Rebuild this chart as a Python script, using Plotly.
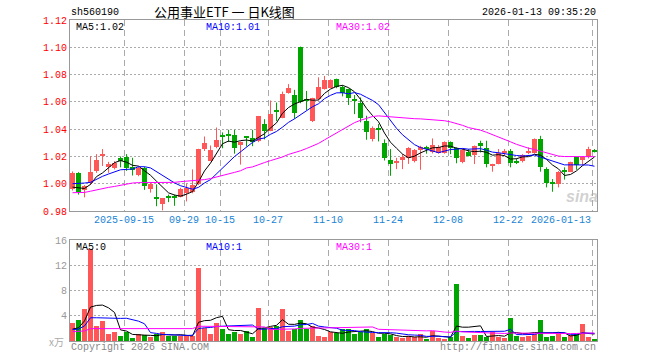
import plotly.graph_objects as go
import pandas as pd

# ---------------- data ----------------
tick_labels = ["2025-09-15", "09-29", "10-15", "10-27", "11-10", "11-24", "12-08", "12-22", "2026-01-13"]
tick_index = [9, 19, 25, 33, 43, 53, 63, 73, 87]

opens = [0.996, 1.008, 0.9956, 1.0005, 1.009, 1.020, 1.012, 1.0115, 1.0188, 1.0195,
         1.012, 1.0062, 1.0113, 0.996, 0.9898, 0.9854, 0.9902, 0.9903, 0.9905, 0.993,
         0.994, 1.000, 1.0254, 1.0165, 1.027, 1.0352, 1.0358, 1.0356, 1.0285, 1.0346,
         1.0332, 1.031, 1.0437, 1.039, 1.0535, 1.0485, 1.0663, 1.0653, 1.100, 1.0616,
         1.0458, 1.062, 1.0695, 1.0705, 1.0765, 1.0712, 1.0694, 1.0618, 1.0595, 1.0458,
         1.0327, 1.0402, 1.030, 1.0173, 1.0158, 1.0173, 1.0185, 1.0168, 1.0249, 1.0262,
         1.0229, 1.0226, 1.0226, 1.0307, 1.0259, 1.0156, 1.0234, 1.021, 1.0302, 1.0259,
         1.0127, 1.0144, 1.0224, 1.0241, 1.0168, 1.0168, 1.0227, 1.0224, 1.0327, 1.0107,
         1.0007, 0.9998, 1.009, 1.0088, 1.0193, 1.018, 1.0193, 1.0243]
highs = [1.009, 1.0085, 0.999, 1.020, 1.0217, 1.0254, 1.016, 1.0165, 1.020, 1.0217,
         1.019, 1.0125, 1.0125, 1.0005, 0.9995, 0.9895, 0.992, 0.992, 0.997, 1.000,
         1.0105, 1.0256, 1.0346, 1.028, 1.0412, 1.0376, 1.0395, 1.0395, 1.031, 1.0348,
         1.0395, 1.0497, 1.0473, 1.061, 1.0595, 1.0675, 1.073, 1.0688, 1.1005, 1.068,
         1.063, 1.078, 1.079, 1.0765, 1.077, 1.0722, 1.0697, 1.065, 1.0632, 1.0498,
         1.042, 1.0437, 1.0325, 1.0254, 1.019, 1.0217, 1.0268, 1.0254, 1.0278, 1.0278,
         1.0332, 1.0283, 1.031, 1.031, 1.0266, 1.0256, 1.0254, 1.028, 1.0315, 1.0315,
         1.0146, 1.0254, 1.0254, 1.0254, 1.0185, 1.0217, 1.0266, 1.0332, 1.0351, 1.012,
         1.0034, 1.0093, 1.012, 1.0161, 1.0195, 1.0195, 1.0271, 1.0254]
lows = [0.995, 0.992, 0.990, 0.999, 1.008, 1.013, 1.008, 1.0105, 1.012, 1.0094,
        1.006, 1.0055, 0.9955, 0.9935, 0.9835, 0.9805, 0.9865, 0.9838, 0.990, 0.987,
        0.993, 0.999, 1.024, 1.0165, 1.026, 1.026, 1.0305, 1.022, 1.014, 1.0273,
        1.0275, 1.0305, 1.0325, 1.0385, 1.046, 1.048, 1.066, 1.0475, 1.059, 1.054,
        1.0452, 1.061, 1.069, 1.070, 1.070, 1.064, 1.0577, 1.051, 1.045, 1.0322,
        1.031, 1.031, 1.017, 1.0058, 1.0107, 1.0107, 1.0145, 1.0156, 1.0102, 1.022,
        1.0222, 1.022, 1.022, 1.0217, 1.015, 1.015, 1.020, 1.0144, 1.0229, 1.012,
        1.0088, 1.0142, 1.0205, 1.012, 1.0144, 1.0156, 1.0217, 1.022, 1.0088, 0.9973,
        0.9941, 0.9973, 1.003, 1.0085, 1.0102, 1.0137, 1.0185, 1.0229]
closes = [1.008, 0.994, 0.998, 1.0088, 1.0173, 1.0215, 1.0145, 1.015, 1.0165, 1.0114,
          1.010, 1.0116, 0.998, 1.000, 0.9895, 0.9893, 0.9898, 0.9899, 0.996, 0.9965,
          0.999, 1.0254, 1.030, 1.0245, 1.032, 1.0345, 1.0352, 1.0259, 1.0303, 1.0342,
          1.0307, 1.0495, 1.0385, 1.0513, 1.053, 1.066, 1.0703, 1.0517, 1.060, 1.0612,
          1.0628, 1.071, 1.076, 1.0758, 1.0712, 1.0666, 1.0626, 1.0607, 1.048, 1.0382,
          1.0406, 1.0398, 1.019, 1.0144, 1.0162, 1.0193, 1.026, 1.0249, 1.0266, 1.0258,
          1.0283, 1.027, 1.0307, 1.0259, 1.0185, 1.0249, 1.0205, 1.0278, 1.0275, 1.0144,
          1.0144, 1.0224, 1.0241, 1.0151, 1.0156, 1.0212, 1.0231, 1.0327, 1.012, 1.0005,
          1.0003, 1.0088, 1.0086, 1.0156, 1.0137, 1.0193, 1.0254, 1.0239]
volumes = [2.88, 3.3, 5.07, 14.67, 2.4, 3.15, 1.12, 1.39, 0.8, 1.44,
           0.48, 1.07, 0.9, 0.59, 1.17, 1.44, 0.8, 0.8, 0.8, 0.8,
           0.8, 11.68, 2.13, 1.07, 2.88, 1.87, 1.07, 1.44, 1.12, 1.55,
           0.59, 5.2, 2.0, 2.28, 2.42, 5.08, 1.56, 1.88, 3.32, 1.88,
           2.38, 0.87, 0.7, 1.47, 1.2, 1.89, 1.89, 1.04, 1.47, 1.89,
           1.2, 0.56, 1.09, 0.93, 0.56, 0.4, 0.77, 0.56, 1.04, 0.24,
           1.63, 0.4, 0.24, 0.56, 9.04, 0.77, 0.4, 0.93, 0.93, 0.56,
           1.36, 0.56, 0.4, 3.6, 0.77, 0.56, 0.77, 1.04, 3.33, 0.56,
           0.77, 1.2, 0.56, 0.93, 1.09, 2.64, 0.67, 0.24]

# moving-average values at the start of the window (windows incomplete)
ma5_lead = [0.9975, 0.997, 0.9965, 0.9995]
ma10_lead = [1.000, 1.000, 1.0005, 1.001, 1.0034, 1.0054, 1.0071, 1.0088, 1.0102]
ma30_lead = [0.9934, 0.9934, 0.9936, 0.9945, 0.9956, 0.9965, 0.9973, 0.998, 0.999, 0.9998,
             1.0005, 1.0008, 1.0008, 1.0008, 1.0008, 1.0008, 1.0008, 1.001, 1.0015, 1.0018,
             1.002, 1.0024, 1.003, 1.0038, 1.0048, 1.0058, 1.0068, 1.0083, 1.0095]
vma5_lead = [1.9, 2.1, 3.2, 5.4]
vma10_lead = [1.8, 1.9, 2.4, 3.7, 3.7, 3.65, 3.6, 3.6, 3.6]
vma30_lead = [1.5, 1.5, 1.6] + [1.97] * 18 + [2.35] * 8

# ---------------- helpers ----------------
def moving(values, n, lead):
    s = pd.Series(values).rolling(n).mean().tolist()
    for i in range(n - 1):
        s[i] = lead[i]
    return s

N = len(closes)
idx = list(range(N))
RED = "#FF5757"
GREEN = "#00A600"
MONO = "Liberation Mono, DejaVu Sans Mono, monospace"

fig = go.Figure()

# volume bars
for color, cond in ((RED, lambda i: closes[i] >= opens[i]), (GREEN, lambda i: closes[i] < opens[i])):
    sel = [i for i in idx if cond(i)]
    fig.add_trace(go.Bar(x=sel, y=[volumes[i] for i in sel], width=0.8,
                         marker=dict(color=color, line=dict(width=0)),
                         xaxis="x2", yaxis="y2", showlegend=False, hoverinfo="skip"))

# candle bodies and wicks
for color, cond in ((RED, lambda i: closes[i] >= opens[i]), (GREEN, lambda i: closes[i] < opens[i])):
    sel = [i for i in idx if cond(i)]
    base = [min(opens[i], closes[i]) for i in sel]
    height = [max(abs(closes[i] - opens[i]), 0.0008) for i in sel]
    fig.add_trace(go.Bar(x=sel, y=height, base=base, width=0.8,
                         marker=dict(color=color, line=dict(width=0)),
                         xaxis="x", yaxis="y", showlegend=False, hoverinfo="skip"))
    wx, wy = [], []
    for i in sel:
        wx += [i, i, None]
        wy += [lows[i], highs[i], None]
    fig.add_trace(go.Scatter(x=wx, y=wy, mode="lines", line=dict(color=color, width=1),
                             xaxis="x", yaxis="y", showlegend=False, hoverinfo="skip"))

# price MAs
for vals, color in ((moving(closes, 5, ma5_lead), "#000000"),
                    (moving(closes, 10, ma10_lead), "#0000FF"),
                    (moving(closes, 30, ma30_lead), "#FF00FF")):
    fig.add_trace(go.Scatter(x=idx, y=vals, mode="lines", line=dict(color=color, width=1),
                             xaxis="x", yaxis="y", showlegend=False, hoverinfo="skip"))

# volume MAs
for vals, color in ((moving(volumes, 5, vma5_lead), "#000000"),
                    (moving(volumes, 10, vma10_lead), "#0000FF"),
                    (moving(volumes, 30, vma30_lead), "#FF00FF")):
    fig.add_trace(go.Scatter(x=idx, y=vals, mode="lines", line=dict(color=color, width=1),
                             xaxis="x2", yaxis="y2", showlegend=False, hoverinfo="skip"))

grid_x = [k - 0.4 for k in tick_index]
xcommon = dict(range=[-0.42, N - 0.58], tickvals=grid_x, showticklabels=False, ticks="",
               showgrid=True, gridcolor="#AAAAAA", griddash="6px,4px", gridwidth=1,
               showline=True, mirror=True, linecolor="#999999", linewidth=1, zeroline=False)

price_ticks = [0.98, 1.00, 1.02, 1.04, 1.06, 1.08, 1.10, 1.12]
vol_ticks = [4, 8, 12, 16]

fig.update_layout(
    width=660, height=360,
    margin=dict(l=70, r=63, t=20, b=19),
    paper_bgcolor="white", plot_bgcolor="white",
    barmode="overlay", bargap=0,
    xaxis=dict(domain=[0, 1], anchor="y", **xcommon),
    xaxis2=dict(domain=[0, 1], anchor="y2", matches="x", **xcommon),
    yaxis=dict(domain=[0.405, 1.0], range=[0.98, 1.12], tickvals=price_ticks,
               ticktext=["%.2f" % v for v in price_ticks], ticks="",
               tickfont=dict(family=MONO, size=10, color="#FF0000"),
               showgrid=True, gridcolor="#AAAAAA", griddash="2px,2px",
               showline=True, mirror=True, linecolor="#999999", linewidth=1, zeroline=False),
    yaxis2=dict(domain=[0, 0.3146], range=[0, 16.08], tickvals=vol_ticks,
                ticktext=[str(v) for v in vol_ticks], ticks="",
                tickfont=dict(family=MONO, size=10, color="#999999"),
                showgrid=True, gridcolor="#AAAAAA", griddash="2px,2px",
                showline=True, mirror=True, linecolor="#999999", linewidth=1, zeroline=False),
    font=dict(family=MONO, size=10, color="#000000"),
)

def px_x(px):
    return (px - 70) / 527.0

def px_y(py):
    return (341 - py) / 321.0

ann = []
def add(text, x, y, color="#000000", size=10, xanchor="left", family=MONO, xref="paper"):
    ann.append(dict(text=text, x=x, y=y, xref=xref, yref="paper", showarrow=False,
                    xanchor=xanchor, yanchor="middle", borderpad=0,
                    font=dict(family=family, size=size, color=color)))

add("sh560190", px_x(70), px_y(12), size=10)
add("公用事业ETF 一 日K线图", px_x(224), px_y(11.5), size=13, xanchor="center",
    family="Noto Sans CJK SC, sans-serif")
add("2026-01-13 09:35:20", px_x(597), px_y(12), size=10, xanchor="right")
add("MA5:1.02", px_x(75), px_y(27.5), size=10)
add("MA10:1.01", px_x(205), px_y(27.5), color="#0000FF", size=10)
add("MA30:1.02", px_x(335), px_y(27.5), color="#FF00FF", size=10)
add("MA5:0", px_x(75), px_y(247.5), size=10)
add("MA10:1", px_x(205), px_y(247.5), color="#0000FF", size=10)
add("MA30:1", px_x(335), px_y(247.5), color="#FF00FF", size=10)
add("Copyright 2026 SINA.COM", px_x(70), px_y(347), color="#888888", size=10)
add("http://finance.sina.com.cn", px_x(597), px_y(347), color="#888888", size=10, xanchor="right")
add("x万", px_x(65), px_y(342), color="#AAAAAA", size=10, xanchor="right",
    family="Noto Sans CJK SC, sans-serif")
add("<b><i>sina</i></b>", px_x(582), px_y(197), color="rgba(170,170,170,0.55)", size=16,
    xanchor="center", family="Arial, Liberation Sans, sans-serif")

# date labels under the price panel
label_pos = list(grid_x)
label_pos[-1] = grid_x[-1] - 5.2  # last label shifted left to stay inside the frame
for lab, xp in zip(tick_labels, label_pos):
    add(lab, xp, px_y(220.5), color="#1A84D6", size=10, xanchor="center", xref="x")

fig.update_layout(annotations=ann)
fig.write_html("out.html")
